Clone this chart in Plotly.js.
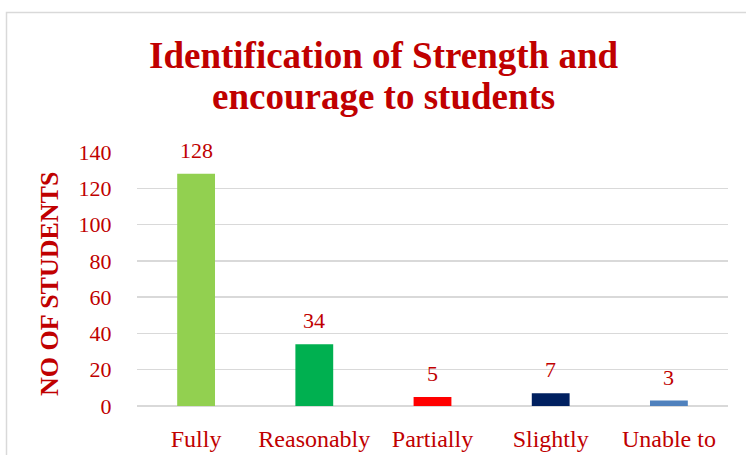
<!DOCTYPE html>
<html>
<head>
<meta charset="utf-8">
<script src="https://cdn.plot.ly/plotly-3.0.1.min.js"></script>
<style>html,body{margin:0;padding:0;background:#fff;}#chart{width:746px;height:455px;}</style>
</head>
<body>
<div id="chart"></div>
<script>
const categories = ["Fully", "Reasonably", "Partially", "Slightly", "Unable to"];
const values = [128, 34, 5, 7, 3];
const barColors = ["#92D050", "#00B050", "#FF0000", "#002060", "#4F81BD"];
const yTicks = [0, 20, 40, 60, 80, 100, 120, 140];
const titleLines = ["Identification of Strength and", "encourage to students"];

const red = "#C00000";
const serif = "'Liberation Serif', 'Times New Roman', serif";

const trace = {
  type: "bar",
  x: categories,
  y: values,
  marker: {color: barColors},
  hoverinfo: "none"
};

const labelAnnotations = categories.map((c, i) => ({
  x: c, y: values[i], xref: "x", yref: "y",
  text: String(values[i]),
  showarrow: false, yanchor: "bottom", yshift: 9,
  font: {family: serif, size: 22, color: red}
}));

const titleY = [(406 - 55) / 254, (406 - 97) / 254];
const titleAnnotations = titleLines.map((t, i) => ({
  text: "<b>" + t + "</b>",
  xref: "paper", yref: "paper",
  x: (383 - 137) / 591, y: titleY[i],
  xanchor: "center", yanchor: "middle", showarrow: false,
  font: {family: serif, size: 37, color: red}
}));

const layout = {
  width: 746, height: 455,
  margin: {l: 137, r: 18, t: 152, b: 49},
  paper_bgcolor: "#fff", plot_bgcolor: "#fff",
  showlegend: false,
  bargap: 0.68,
  xaxis: {
    type: "category",
    tickfont: {family: serif, size: 24, color: red},
    ticks: "outside", ticklen: 11, tickcolor: "rgba(0,0,0,0)",
    showgrid: false, showline: false, zeroline: false, fixedrange: true
  },
  yaxis: {
    range: [0, 140],
    tickvals: yTicks,
    tickfont: {family: serif, size: 22, color: red},
    ticks: "outside", ticklen: 20, tickcolor: "rgba(0,0,0,0)",
    showgrid: true, gridcolor: "#D9D9D9", gridwidth: 1.3,
    zeroline: true, zerolinecolor: "#D9D9D9", zerolinewidth: 1.5,
    showline: false, fixedrange: true
  },
  annotations: labelAnnotations.concat(titleAnnotations, [{
    text: "<b>NO OF STUDENTS</b>",
    xref: "paper", yref: "paper",
    x: (49 - 137) / 591, y: (406 - 284) / 254,
    xanchor: "center", yanchor: "middle",
    textangle: -90, showarrow: false,
    font: {family: serif, size: 26, color: red}
  }]),
  shapes: [{
    type: "rect", xref: "paper", yref: "paper",
    x0: (6.5 - 137) / 591, x1: (770 - 137) / 591,
    y0: (406 - 480) / 254, y1: (406 - 12.5) / 254,
    line: {color: "#D9D9D9", width: 1.5}, fillcolor: "rgba(0,0,0,0)",
    layer: "below"
  }]
};

Plotly.newPlot("chart", [trace], layout, {displayModeBar: false, staticPlot: true});
</script>
</body>
</html>
